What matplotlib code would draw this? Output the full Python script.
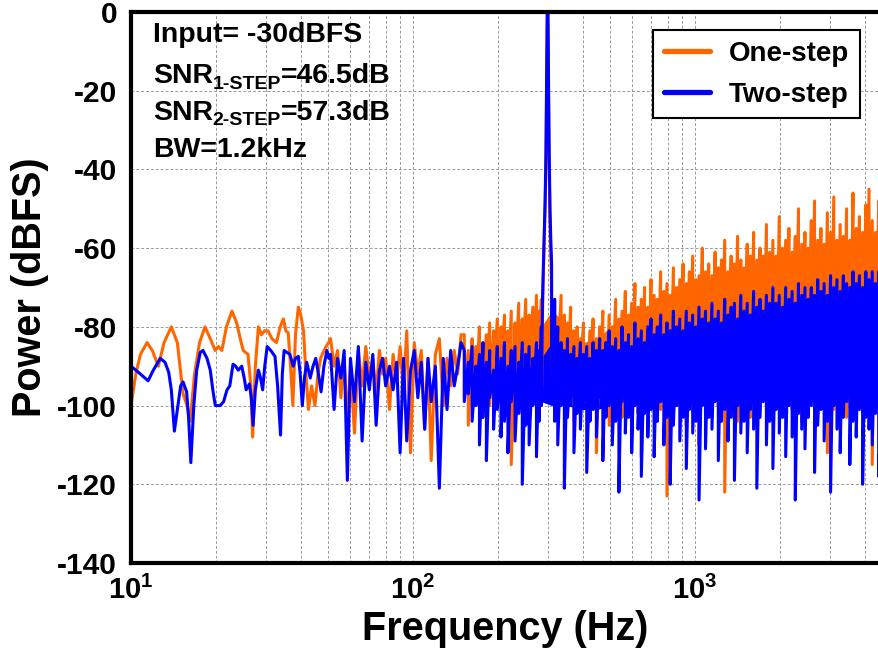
import matplotlib

matplotlib.use("Agg")
import matplotlib.pyplot as plt

plt.rcParams["font.family"] = ["Liberation Sans", "DejaVu Sans"]
plt.rcParams["font.weight"] = "bold"
plt.rcParams["axes.unicode_minus"] = False
plt.rcParams["mathtext.fontset"] = "custom"
plt.rcParams["mathtext.rm"] = "Liberation Sans"
plt.rcParams["mathtext.bf"] = "Liberation Sans:bold"

ORANGE = "#ff6600"
BLUE = "#0000ff"

# --- low band (smooth part of the spectrum), each trace has its own bins ---
one_freq_lo = [10, 10.4, 10.8, 11.4, 11.9, 12.5, 13.1, 13.9, 14.6, 15.3, 15.8, 16.2, 16.8,
               17.5, 18.3, 19.1, 19.9, 20.4, 21.0, 21.8, 22.8, 23.7, 24.4, 25.0, 26.0,
               26.6, 27.0, 27.6, 28.3, 29.0, 29.8, 30.6, 31.6, 32.8, 33.8, 34.7, 35.4,
               36.1, 36.8, 37.5, 38.3, 39.2, 40.0, 40.9, 41.7, 42.6, 43.7, 44.9, 46.0,
               47.0, 48.0, 49.2, 50.2]
one_pwr_lo = [-100, -92, -87, -84, -86, -90, -84, -80, -84, -97, -100, -104, -92,
              -84, -80, -83, -86, -85, -86, -80, -76, -79, -83, -86, -87,
              -95, -108, -90, -80, -82, -81, -81, -83, -84, -80, -78, -81,
              -81.5, -90, -100, -82, -75, -77, -81, -92, -101, -95, -100, -92,
              -88, -86.5, -85, -84]

two_freq_lo = [10, 10.6, 11.0, 11.5, 12.0, 12.7, 13.2, 13.6, 13.9, 14.25, 14.6, 15.0, 15.3,
               15.75, 16.0, 16.3, 16.7, 17.1, 17.6, 18.0, 18.6, 19.1, 19.5, 19.9, 20.7,
               21.3, 21.9, 22.4, 23.0, 23.5, 24.0, 24.7, 25.2, 25.6, 26.3, 26.7, 27.1,
               27.6, 28.3, 28.8, 29.3, 29.8, 30.4, 31.3, 32.4, 33.1, 33.9, 34.4, 34.9,
               35.7, 36.6, 37.6, 38.3, 39.2, 39.8, 40.5, 41.2, 42.0, 43.2, 44.2, 45.2,
               46.2, 47.2, 48.3, 49.5, 50.3]
two_pwr_lo = [-90, -91.5, -92.5, -93.7, -91, -88, -89, -91.5, -96, -106.5, -101, -95, -94,
              -96.5, -103, -114.5, -100, -91, -86.5, -86, -88, -91, -96, -100, -100,
              -99, -96, -95, -89.5, -90, -91, -90, -93, -96, -94.5, -98, -105,
              -96, -91, -93, -96, -90, -85, -86, -87.5, -95, -107.5, -92, -86,
              -86.5, -87, -90, -88, -87.5, -92, -100, -93, -89, -93, -90, -88,
              -92, -96.5, -90, -86, -88]

# --- mid band (noisy, still line-like), shared bins ---
freq_mid = [51, 52.5, 54, 55.5, 57, 58.5, 60, 62, 64, 66, 68, 70, 72, 74, 76, 78, 80,
            82.5, 85, 87.5, 90, 92.5, 95, 98, 101, 104, 107, 110, 113, 116, 120, 124,
            128, 132, 136, 140, 144, 148]
one_pwr_mid = [-83, -90, -86, -98, -88, -104, -90, -107, -86, -95,
               -85, -93, -88, -97, -86, -92, -88, -101, -87, -94,
               -85, -96, -81, -112, -84, -92, -86, -106, -88, -114,
               -87, -83, -100, -88, -95, -86, -92, -82]
two_pwr_mid = [-87, -101, -88, -93, -86, -119, -88, -99, -85, -109,
               -89, -96, -87, -105, -91, -88, -95, -90, -96, -89,
               -112, -88, -109, -91, -86, -98, -89, -106, -88, -99,
               -90, -121, -88, -101, -86, -95, -90, -84]

# --- dense band below the tone, peak / trough per bin ---
freq_b1 = [152, 157, 162, 167, 172, 177, 182, 187, 193, 199, 205, 211, 217, 223, 230,
           237, 244, 251, 258, 266, 274, 280, 285]
one_hi_b1 = [-82, -86, -83, -85, -80, -84, -82, -79, -81, -78,
             -80, -77, -81, -76, -79, -74, -78, -73, -77, -75, -72, -76, -73]
one_lo_b1 = [-98, -105, -95, -100, -92, -103, -96, -100, -94, -98,
             -92, -103, -96, -115, -94, -100, -92, -98, -90, -96, -104, -95, -100]
two_hi_b1 = [-86, -89, -85, -90, -87, -84, -89, -86, -91, -85,
             -88, -84, -90, -86, -85, -89, -84, -87, -85, -88, -84, -86, -80]
two_lo_b1 = [-99, -97, -104, -100, -110, -103, -114, -98, -106, -101,
             -108, -104, -112, -99, -109, -102, -120, -105, -110, -100, -113, -104, -100]

# --- input tone at 300 Hz ---
freq_tone = [288, 290, 292, 294, 296, 297.5, 299, 300, 301, 302.5, 304, 306, 308]
one_pwr_tone = [-76, -66, -58, -50, -38, -22, -4, 2, -6, -24, -40, -54, -62]
two_pwr_tone = [-72, -64, -56, -48, -36, -18, 0, 5, 0, -20, -36, -50, -58]

# --- high band (dense noise), peak / trough per bin ---
freq_hf = [310, 318, 326, 335, 344, 353, 362, 372, 382, 392, 402, 413, 424, 435, 447, 459,
           471, 483, 496, 509, 523, 537, 551, 566, 581, 596, 612, 628, 645, 662, 680, 698,
           716, 735, 755, 775, 795, 816, 838, 860, 883, 907, 931, 955, 981, 1007, 1033,
           1061, 1089, 1118, 1148, 1178, 1209, 1241, 1274, 1308, 1343, 1379, 1415, 1453,
           1491, 1531, 1571, 1613, 1656, 1700, 1745, 1791, 1839, 1888, 1938, 1989, 2042,
           2096, 2152, 2209, 2267, 2327, 2389, 2453, 2518, 2584, 2653, 2723, 2795, 2869,
           2946, 3024, 3104, 3186, 3271, 3357, 3446, 3538, 3632, 3728, 3827, 3928, 4032,
           4139, 4249, 4362, 4478, 4597]
one_hi = [-70, -73, -78, -72, -77, -79, -75, -81, -80, -83,
          -79, -85, -81, -78, -83, -80, -76, -82, -77, -80,
          -73, -78, -76, -71, -77, -74, -69, -75, -73, -70,
          -75, -68, -72, -73, -66, -71, -69, -72, -65, -70,
          -68, -64, -69, -66, -62, -68, -67, -60, -66, -64,
          -67, -61, -65, -63, -58, -66, -62, -64, -57, -63,
          -65, -59, -62, -56, -63, -60, -62, -54, -61, -58,
          -62, -52, -60, -58, -55, -61, -57, -50, -59, -56,
          -60, -53, -48, -58, -55, -59, -51, -56, -47, -58,
          -54, -57, -50, -58, -46, -55, -52, -56, -49, -45,
          -53, -56, -48, -54]
one_lo = [-92, -96, -90, -98, -94, -100, -95, -104, -97, -93,
          -99, -96, -102, -95, -112, -98, -94, -101, -105, -97,
          -100, -96, -103, -98, -94, -108, -99, -102, -113, -97,
          -100, -95, -104, -98, -101, -96, -123, -99, -103, -97,
          -100, -94, -105, -98, -102, -96, -110, -99, -101, -97,
          -103, -96, -100, -98, -122, -101, -95, -99, -104, -97,
          -100, -96, -103, -98, -101, -95, -99, -108, -97, -102,
          -96, -100, -98, -103, -97, -101, -95, -100, -104, -98,
          -101, -96, -99, -103, -97, -100, -112, -98, -101, -96,
          -100, -97, -103, -99, -96, -101, -98, -102, -97, -100,
          -115, -99, -96, -101]
two_hi = [-64, -73, -80, -84, -86, -83, -87, -85, -88, -84,
          -87, -85, -88, -84, -86, -83, -86, -84, -81, -85,
          -83, -86, -80, -84, -82, -85, -79, -83, -81, -84,
          -80, -78, -82, -80, -77, -82, -79, -81, -76, -80,
          -78, -81, -76, -79, -77, -80, -75, -78, -76, -79,
          -74, -78, -76, -79, -73, -77, -75, -74, -78, -72,
          -76, -74, -77, -71, -75, -73, -76, -72, -74, -70,
          -74, -72, -75, -70, -73, -71, -74, -69, -72, -70,
          -73, -70, -72, -68, -71, -69, -72, -67, -70, -68,
          -71, -67, -69, -70, -66, -69, -67, -70, -66, -68,
          -66, -69, -66, -67]
two_lo = [-98, -104, -110, -100, -121, -103, -98, -112, -102, -106,
          -99, -117, -104, -101, -108, -98, -114, -103, -100, -110,
          -104, -122, -99, -107, -103, -112, -100, -106, -118, -102,
          -108, -101, -113, -104, -99, -110, -103, -120, -105, -100,
          -109, -103, -116, -101, -107, -104, -124, -100, -111, -103,
          -106, -99, -114, -104, -101, -109, -103, -119, -100, -107,
          -104, -112, -101, -106, -121, -103, -99, -110, -104, -116,
          -101, -107, -103, -113, -100, -108, -124, -102, -106, -111,
          -103, -100, -117, -105, -101, -109, -104, -122, -100, -106,
          -112, -103, -99, -115, -104, -108, -101, -120, -103, -106,
          -110, -102, -118, -104]

# --- solid core of the noise floor (where the traces are too dense to resolve) ---
freq_core = [220, 250, 285, 310, 350, 400, 450, 500, 600, 700, 800, 1000, 1200,
             1500, 2000, 2500, 3000, 3500, 4000, 4600]
one_core_top = [-87, -82, -80, -76, -79, -84, -83, -80, -77, -74, -72, -70, -68,
                -66, -64, -63, -62, -61, -60, -60]
one_core_bot = [-92, -94, -95, -95, -95, -95, -96, -96, -96, -96, -96, -96, -96,
                -96, -96, -96, -96, -96, -96, -96]
two_core_top = [-92, -90, -88, -84, -87, -89, -88, -87, -85, -84, -83, -81, -80,
                -79, -77, -76, -75, -74, -73, -72]
two_core_bot = [-95, -97, -99, -100, -100, -101, -101, -100, -100, -99, -99, -99, -98,
                -98, -97, -97, -96, -96, -96, -96]

xtick_vals = [10, 100, 1000]
xtick_text = [r"$\mathbf{10}^{1}$", r"$\mathbf{10}^{2}$", r"$\mathbf{10}^{3}$"]
ytick_vals = [-140, -120, -100, -80, -60, -40, -20, 0]


def zigzag(freqs, hi, lo):
    f, p = [], []
    for fi, h, l in zip(freqs, hi, lo):
        f += [fi, fi]
        p += [h, l]
    return f, p


def build_trace(freq_lo, pwr_lo, pwr_mid, hi_b1, lo_b1, pwr_tone, hi, lo):
    f_b1, p_b1 = zigzag(freq_b1, hi_b1, lo_b1)
    f_hf, p_hf = zigzag(freq_hf, hi, lo)
    f = freq_lo + freq_mid + f_b1 + freq_tone + f_hf
    p = pwr_lo + pwr_mid + p_b1 + pwr_tone + p_hf
    return f, p


def main() -> None:
    fig = plt.figure(figsize=(8.79, 6.51), dpi=100)
    ax = fig.add_axes([131 / 879, 1 - 563 / 651, 748 / 879, 551 / 651])

    f1, p1 = build_trace(one_freq_lo, one_pwr_lo, one_pwr_mid, one_hi_b1, one_lo_b1,
                         one_pwr_tone, one_hi, one_lo)
    f2, p2 = build_trace(two_freq_lo, two_pwr_lo, two_pwr_mid, two_hi_b1, two_lo_b1,
                         two_pwr_tone, two_hi, two_lo)
    ax.fill_between(freq_core, one_core_bot, one_core_top, color=ORANGE, lw=0)
    ax.plot(f1, p1, color=ORANGE, lw=2.2, label="One-step")
    ax.fill_between(freq_core, two_core_bot, two_core_top, color=BLUE, lw=0)
    ax.plot(f2, p2, color=BLUE, lw=2.2, label="Two-step")

    ax.set_xscale("log")
    ax.set_xlim(10, 4490)
    ax.set_ylim(-140, 0)
    ax.set_yticks(ytick_vals)
    ax.set_xticks(xtick_vals)
    ax.set_xticklabels(xtick_text)

    grid_kw = dict(color="#9a9a9a", linestyle=(0, (3, 2)), linewidth=0.7)
    ax.grid(True, which="major", axis="both", **grid_kw)
    ax.grid(True, which="minor", axis="x", **grid_kw)
    ax.set_axisbelow(True)
    ax.tick_params(which="both", length=0)
    ax.tick_params(axis="y", labelsize=21.5, pad=10)
    ax.tick_params(axis="x", labelsize=21, pad=9)
    for side in ["left", "bottom", "top"]:
        ax.spines[side].set_linewidth(3)
    ax.spines["right"].set_visible(False)

    ax.set_xlabel("Frequency (Hz)", fontsize=28.5, fontweight="bold", labelpad=4)
    ax.set_ylabel("Power (dBFS)", fontsize=28.5, fontweight="bold", labelpad=6)

    leg = ax.legend(loc="upper right", bbox_to_anchor=(860 / 879, 1 - 30 / 651),
                    bbox_transform=fig.transFigure, borderaxespad=0, fontsize=20,
                    fancybox=False, edgecolor="black", framealpha=1,
                    handlelength=1.65, handletextpad=0.7, borderpad=0.38, labelspacing=0.55)
    leg.get_frame().set_linewidth(1.5)
    for line in leg.get_lines():
        line.set_linewidth(3.8)
        line.set_solid_capstyle("round")

    x0 = 152.7 / 879
    fs = 20.5
    fig.text(x0, 1 - 41.7 / 651, "Input= -30dBFS", fontsize=fs, fontweight="bold", va="baseline")
    for y_px, sub, rest in [(83.3, "1-STEP", "=46.5dB"), (120, "2-STEP", "=57.3dB")]:
        t = fig.text(x0, 1 - y_px / 651, "SNR", fontsize=fs, fontweight="bold", va="baseline")
        s = ax.annotate(sub, xy=(1, 0), xycoords=t, xytext=(0, -2.5), textcoords="offset points",
                        fontsize=14, fontweight="bold", va="bottom", ha="left")
        ax.annotate(rest, xy=(1, 0), xycoords=s, xytext=(0, 2.5), textcoords="offset points",
                    fontsize=fs, fontweight="bold", va="bottom", ha="left")
    fig.text(x0, 1 - 157.3 / 651, "BW=1.2kHz", fontsize=fs, fontweight="bold", va="baseline")

    fig.savefig("out.png", dpi=100)
    plt.close(fig)


if __name__ == "__main__":
    main()
